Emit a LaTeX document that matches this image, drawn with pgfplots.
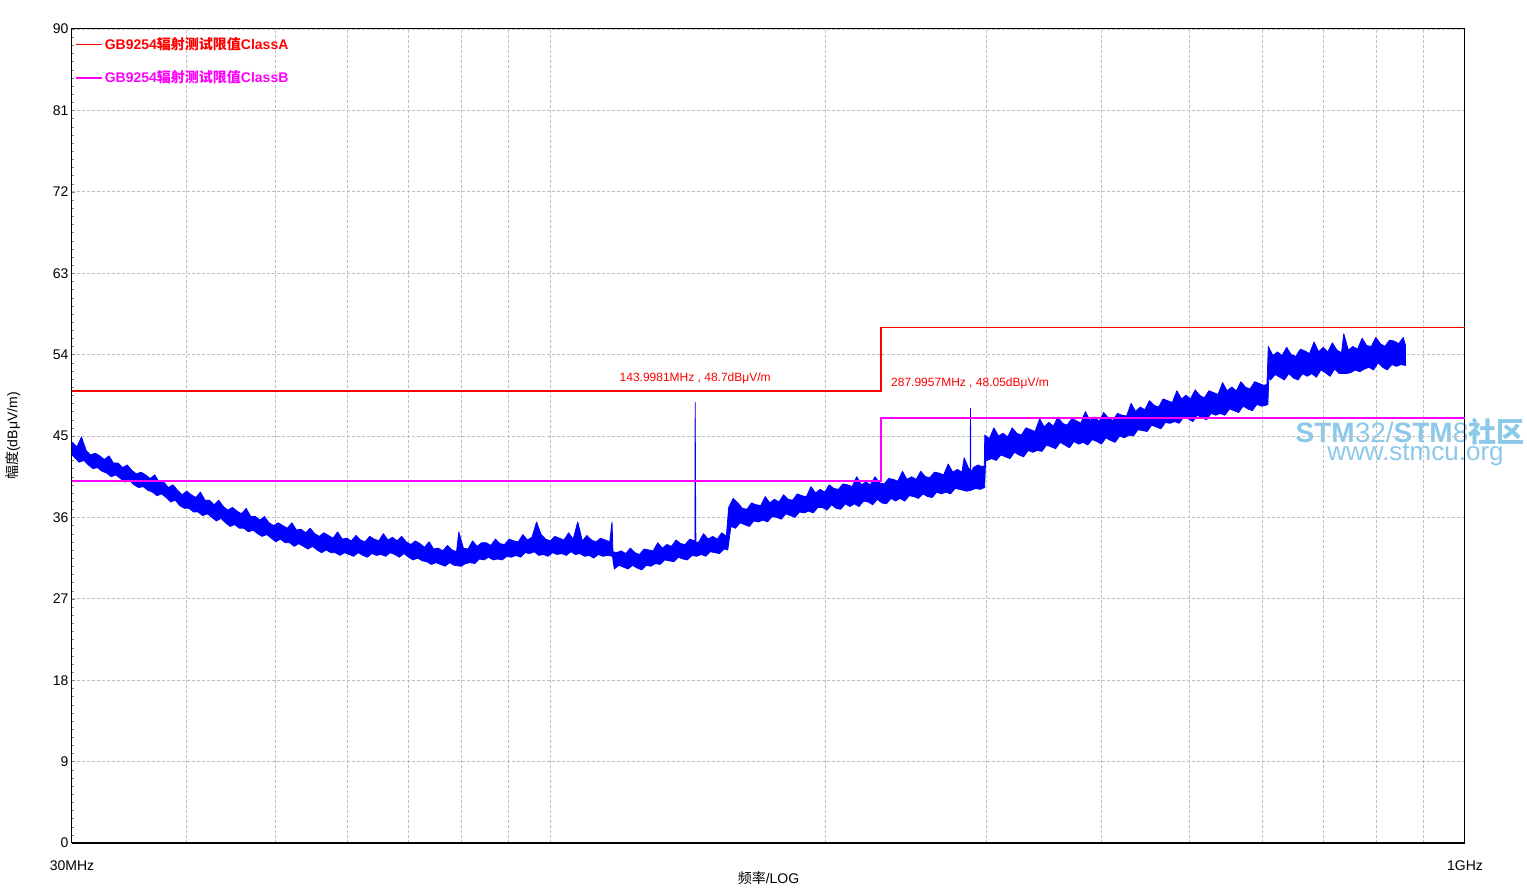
\documentclass[border=0pt]{standalone}
\usepackage{fontspec}
\setmainfont{Liberation Sans}
\newfontfamily\cjk{Noto Sans CJK SC}
\usepackage{pgfplots}
\usepackage{pgfplotstable}
\pgfplotsset{compat=1.18}
\definecolor{gridgray}{RGB}{190,190,190}
\definecolor{limitA}{RGB}{255,0,0}
\definecolor{limitB}{RGB}{255,0,255}
\definecolor{trace}{RGB}{0,0,255}
\definecolor{wmark}{RGB}{140,200,234}

% measured trace, x = log10(f/MHz): upper edge of the noise band (with the peaks)
\pgfplotstableread[row sep=\\]{
x y \\
1.4775 44.3 \\ 1.4825 43.8 \\ 1.4875 44.9 \\ 1.4925 43.4 \\ 1.4975 42.9 \\ 1.5025 43.1 \\ 1.5075 42.8 \\ 1.5125 42.4 \\ 1.5175 42.8 \\ 1.5225 42.0 \\
1.5275 42.0 \\ 1.5325 41.5 \\ 1.5375 41.8 \\ 1.5425 41.2 \\ 1.5475 40.8 \\ 1.5525 41.0 \\ 1.5575 40.7 \\ 1.5625 40.3 \\ 1.5675 40.7 \\ 1.5725 39.9 \\
1.5775 39.9 \\ 1.5825 39.3 \\ 1.5875 39.6 \\ 1.5925 39.0 \\ 1.5975 38.5 \\ 1.6025 38.9 \\ 1.6075 38.5 \\ 1.6125 38.2 \\ 1.6175 38.8 \\ 1.6225 37.9 \\
1.6275 37.9 \\ 1.6325 37.4 \\ 1.6375 37.9 \\ 1.6425 37.2 \\ 1.6475 36.8 \\ 1.6525 37.1 \\ 1.6575 36.7 \\ 1.6625 36.4 \\ 1.6675 37.0 \\ 1.6725 36.1 \\
1.6775 36.1 \\ 1.6825 35.7 \\ 1.6875 36.1 \\ 1.6925 35.4 \\ 1.6975 35.1 \\ 1.7025 35.4 \\ 1.7075 35.1 \\ 1.7125 34.8 \\ 1.7175 35.4 \\ 1.7225 34.6 \\
1.7275 34.7 \\ 1.7325 34.3 \\ 1.7375 34.8 \\ 1.7425 34.2 \\ 1.7475 33.9 \\ 1.7525 34.3 \\ 1.7575 34.0 \\ 1.7625 33.7 \\ 1.7675 34.4 \\ 1.7725 33.6 \\
1.7775 33.7 \\ 1.7825 33.4 \\ 1.7875 34.0 \\ 1.7925 33.5 \\ 1.7975 33.3 \\ 1.8025 33.9 \\ 1.8075 33.6 \\ 1.8125 33.4 \\ 1.8175 34.2 \\ 1.8225 33.5 \\
1.8275 33.8 \\ 1.8325 33.4 \\ 1.8375 33.9 \\ 1.8425 33.3 \\ 1.8475 33.0 \\ 1.8525 33.4 \\ 1.8575 33.1 \\ 1.8625 32.7 \\ 1.8675 33.3 \\ 1.8725 32.5 \\
1.8775 32.6 \\ 1.8825 32.3 \\ 1.8875 32.9 \\ 1.8925 32.4 \\ 1.8975 32.2 \\ 1.9000 34.4 \\ 1.9050 32.6 \\ 1.9100 32.5 \\ 1.9150 33.4 \\ 1.9200 32.8 \\
1.9250 33.2 \\ 1.9300 33.2 \\ 1.9350 32.9 \\ 1.9400 33.6 \\ 1.9450 33.1 \\ 1.9500 33.0 \\ 1.9550 33.6 \\ 1.9600 33.4 \\ 1.9650 33.3 \\ 1.9700 34.1 \\
1.9750 33.5 \\ 1.9800 33.8 \\ 1.9850 35.5 \\ 1.9900 34.1 \\ 1.9950 33.6 \\ 2.0000 33.4 \\ 2.0050 33.9 \\ 2.0100 33.7 \\ 2.0150 33.5 \\ 2.0200 34.3 \\
2.0250 33.6 \\ 2.0300 35.5 \\ 2.0350 33.4 \\ 2.0400 34.0 \\ 2.0450 33.5 \\ 2.0500 33.3 \\ 2.0550 33.7 \\ 2.0600 33.5 \\ 2.0650 33.3 \\ 2.0675 35.5 \\
2.0685 32.2 \\ 2.0725 32.1 \\ 2.0775 32.3 \\ 2.0825 32.0 \\ 2.0875 32.6 \\ 2.0925 32.1 \\ 2.0975 31.9 \\ 2.1025 32.5 \\ 2.1075 32.4 \\ 2.1125 32.3 \\
2.1175 33.2 \\ 2.1225 32.6 \\ 2.1275 33.0 \\ 2.1325 32.8 \\ 2.1375 33.5 \\ 2.1425 33.1 \\ 2.1475 33.0 \\ 2.1525 33.6 \\ 2.1575 33.4 \\ 2.1581 33.3 \\
2.1584 48.7 \\ 2.1588 39.1 \\ 2.1592 33.2 \\ 2.1625 33.3 \\ 2.1675 34.2 \\ 2.1725 33.6 \\ 2.1775 33.9 \\ 2.1825 33.6 \\ 2.1875 34.3 \\ 2.1925 33.9 \\
2.1950 37.1 \\ 2.2000 38.1 \\ 2.2050 37.6 \\ 2.2100 37.0 \\ 2.2150 36.9 \\ 2.2200 37.6 \\ 2.2250 37.4 \\ 2.2300 37.3 \\ 2.2350 38.3 \\ 2.2400 37.6 \\
2.2450 38.0 \\ 2.2500 37.7 \\ 2.2550 38.5 \\ 2.2600 38.0 \\ 2.2650 37.9 \\ 2.2700 38.6 \\ 2.2750 38.4 \\ 2.2800 38.3 \\ 2.2850 39.4 \\ 2.2900 38.7 \\
2.2950 39.1 \\ 2.3000 38.8 \\ 2.3050 39.6 \\ 2.3100 39.2 \\ 2.3150 39.1 \\ 2.3200 39.7 \\ 2.3250 39.6 \\ 2.3300 39.4 \\ 2.3350 40.5 \\ 2.3400 39.6 \\
2.3450 39.9 \\ 2.3500 39.6 \\ 2.3550 40.5 \\ 2.3600 39.8 \\ 2.3650 39.7 \\ 2.3700 40.3 \\ 2.3750 40.2 \\ 2.3800 40.0 \\ 2.3850 41.1 \\ 2.3900 40.2 \\
2.3950 40.5 \\ 2.4000 40.2 \\ 2.4050 41.1 \\ 2.4100 40.5 \\ 2.4150 40.4 \\ 2.4200 41.0 \\ 2.4250 40.9 \\ 2.4300 40.7 \\ 2.4350 41.9 \\ 2.4400 41.0 \\
2.4450 41.3 \\ 2.4500 41.0 \\ 2.4525 42.6 \\ 2.4575 41.4 \\ 2.4590 41.2 \\ 2.4594 48.05 \\ 2.4598 40.8 \\ 2.4625 41.5 \\ 2.4675 41.8 \\ 2.4725 41.6 \\
2.4745 41.7 \\ 2.4750 45.1 \\ 2.4800 44.7 \\ 2.4850 45.9 \\ 2.4900 45.0 \\ 2.4950 45.3 \\ 2.5000 44.9 \\ 2.5050 45.9 \\ 2.5100 45.3 \\ 2.5150 45.1 \\
2.5200 45.9 \\ 2.5250 45.7 \\ 2.5300 45.5 \\ 2.5350 46.9 \\ 2.5400 46.0 \\ 2.5450 46.5 \\ 2.5500 46.1 \\ 2.5550 47.1 \\ 2.5600 46.4 \\ 2.5650 46.2 \\
2.5700 46.9 \\ 2.5750 46.7 \\ 2.5800 46.4 \\ 2.5850 47.7 \\ 2.5900 46.7 \\ 2.5950 47.1 \\ 2.6000 46.6 \\ 2.6050 47.6 \\ 2.6100 47.0 \\ 2.6150 46.7 \\
2.6200 47.5 \\ 2.6250 47.3 \\ 2.6300 47.2 \\ 2.6350 48.6 \\ 2.6400 47.7 \\ 2.6450 48.2 \\ 2.6500 47.9 \\ 2.6550 48.9 \\ 2.6600 48.4 \\ 2.6650 48.2 \\
2.6700 49.1 \\ 2.6750 48.9 \\ 2.6800 48.7 \\ 2.6850 50.0 \\ 2.6900 49.1 \\ 2.6950 49.5 \\ 2.7000 49.1 \\ 2.7050 50.1 \\ 2.7100 49.5 \\ 2.7150 49.2 \\
2.7200 50.0 \\ 2.7250 49.8 \\ 2.7300 49.6 \\ 2.7350 50.9 \\ 2.7400 50.0 \\ 2.7450 50.4 \\ 2.7500 50.0 \\ 2.7550 51.0 \\ 2.7600 50.4 \\ 2.7650 50.2 \\
2.7700 51.0 \\ 2.7750 50.8 \\ 2.7800 50.6 \\ 2.7835 50.7 \\ 2.7850 54.9 \\ 2.7900 53.9 \\ 2.7950 54.3 \\ 2.8000 53.9 \\ 2.8050 54.8 \\ 2.8100 54.0 \\
2.8150 53.8 \\ 2.8200 54.6 \\ 2.8250 54.4 \\ 2.8300 54.1 \\ 2.8350 55.4 \\ 2.8400 54.3 \\ 2.8450 54.8 \\ 2.8500 54.3 \\ 2.8550 55.3 \\ 2.8600 54.5 \\
2.8650 54.2 \\ 2.8675 56.3 \\ 2.8725 54.5 \\ 2.8775 54.9 \\ 2.8825 54.6 \\ 2.8875 55.8 \\ 2.8925 55.0 \\ 2.8975 54.9 \\ 2.9025 55.9 \\ 2.9075 55.2 \\
2.9125 54.9 \\ 2.9175 55.6 \\ 2.9225 55.5 \\ 2.9275 55.2 \\ 2.9325 55.9 \\ 2.9350 55.0 \\
}\bandup

% lower edge of the noise band
\pgfplotstableread[row sep=\\]{
x y \\
1.4775 42.9 \\ 1.4800 42.6 \\ 1.4850 42.1 \\ 1.4900 42.3 \\ 1.4950 41.8 \\ 1.5000 41.4 \\ 1.5050 41.5 \\ 1.5100 41.1 \\ 1.5150 40.9 \\ 1.5200 40.5 \\
1.5250 40.7 \\ 1.5300 40.3 \\ 1.5350 39.9 \\ 1.5400 40.1 \\ 1.5450 39.6 \\ 1.5500 39.3 \\ 1.5550 39.4 \\ 1.5600 39.0 \\ 1.5650 38.8 \\ 1.5700 38.4 \\
1.5750 38.6 \\ 1.5800 38.2 \\ 1.5850 37.7 \\ 1.5900 37.9 \\ 1.5950 37.3 \\ 1.6000 37.0 \\ 1.6050 37.0 \\ 1.6100 36.6 \\ 1.6150 36.6 \\ 1.6200 36.2 \\
1.6250 36.4 \\ 1.6300 36.0 \\ 1.6350 35.6 \\ 1.6400 35.9 \\ 1.6450 35.4 \\ 1.6500 35.0 \\ 1.6550 35.2 \\ 1.6600 34.8 \\ 1.6650 34.8 \\ 1.6700 34.4 \\
1.6750 34.6 \\ 1.6800 34.2 \\ 1.6850 33.9 \\ 1.6900 34.1 \\ 1.6950 33.7 \\ 1.7000 33.3 \\ 1.7050 33.6 \\ 1.7100 33.2 \\ 1.7150 33.2 \\ 1.7200 32.8 \\
1.7250 33.1 \\ 1.7300 32.8 \\ 1.7350 32.5 \\ 1.7400 32.8 \\ 1.7450 32.4 \\ 1.7500 32.1 \\ 1.7550 32.4 \\ 1.7600 32.1 \\ 1.7650 32.1 \\ 1.7700 31.8 \\
1.7750 32.1 \\ 1.7800 31.9 \\ 1.7850 31.7 \\ 1.7900 32.1 \\ 1.7950 31.8 \\ 1.8000 31.6 \\ 1.8050 32.0 \\ 1.8100 31.8 \\ 1.8150 31.9 \\ 1.8200 31.7 \\
1.8250 32.1 \\ 1.8300 31.9 \\ 1.8350 31.6 \\ 1.8400 32.0 \\ 1.8450 31.6 \\ 1.8500 31.3 \\ 1.8550 31.5 \\ 1.8600 31.2 \\ 1.8650 31.1 \\ 1.8700 30.8 \\
1.8750 31.0 \\ 1.8800 30.8 \\ 1.8850 30.6 \\ 1.8900 31.0 \\ 1.8950 30.7 \\ 1.9025 30.6 \\ 1.9075 30.9 \\ 1.9125 31.0 \\ 1.9175 30.9 \\ 1.9225 31.4 \\
1.9275 31.3 \\ 1.9325 31.6 \\ 1.9375 31.3 \\ 1.9425 31.4 \\ 1.9475 31.3 \\ 1.9525 31.7 \\ 1.9575 31.6 \\ 1.9625 31.8 \\ 1.9675 31.6 \\ 1.9725 32.1 \\
1.9775 32.0 \\ 1.9825 32.2 \\ 1.9875 31.8 \\ 1.9925 31.9 \\ 1.9975 31.7 \\ 2.0025 32.1 \\ 2.0075 31.9 \\ 2.0125 32.0 \\ 2.0175 31.8 \\ 2.0225 32.2 \\
2.0275 31.9 \\ 2.0325 32.0 \\ 2.0375 31.7 \\ 2.0425 31.8 \\ 2.0475 31.5 \\ 2.0525 31.9 \\ 2.0575 31.7 \\ 2.0625 31.8 \\ 2.0680 31.7 \\ 2.0700 30.3 \\
2.0750 30.7 \\ 2.0800 30.5 \\ 2.0850 30.3 \\ 2.0900 30.7 \\ 2.0950 30.4 \\ 2.1000 30.2 \\ 2.1050 30.7 \\ 2.1100 30.6 \\ 2.1150 30.9 \\ 2.1200 30.8 \\
2.1250 31.3 \\ 2.1300 31.2 \\ 2.1350 31.1 \\ 2.1400 31.6 \\ 2.1450 31.4 \\ 2.1500 31.3 \\ 2.1550 31.8 \\ 2.1600 31.7 \\ 2.1650 31.9 \\ 2.1700 31.7 \\
2.1750 32.2 \\ 2.1800 32.1 \\ 2.1850 32.0 \\ 2.1900 32.5 \\ 2.1940 32.4 \\ 2.1975 35.0 \\ 2.2025 34.8 \\ 2.2075 35.4 \\ 2.2125 35.2 \\ 2.2175 35.0 \\
2.2225 35.6 \\ 2.2275 35.5 \\ 2.2325 35.7 \\ 2.2375 35.5 \\ 2.2425 36.1 \\ 2.2475 36.0 \\ 2.2525 35.8 \\ 2.2575 36.4 \\ 2.2625 36.2 \\ 2.2675 36.0 \\
2.2725 36.6 \\ 2.2775 36.5 \\ 2.2825 36.7 \\ 2.2875 36.5 \\ 2.2925 37.1 \\ 2.2975 37.1 \\ 2.3025 36.8 \\ 2.3075 37.4 \\ 2.3125 37.0 \\ 2.3175 36.9 \\
2.3225 37.5 \\ 2.3275 37.2 \\ 2.3325 37.5 \\ 2.3375 37.2 \\ 2.3425 37.8 \\ 2.3475 37.7 \\ 2.3525 37.4 \\ 2.3575 38.0 \\ 2.3625 37.6 \\ 2.3675 37.5 \\
2.3725 38.1 \\ 2.3775 37.8 \\ 2.3825 38.1 \\ 2.3875 37.8 \\ 2.3925 38.4 \\ 2.3975 38.3 \\ 2.4025 38.1 \\ 2.4075 38.6 \\ 2.4125 38.3 \\ 2.4175 38.2 \\
2.4225 38.8 \\ 2.4275 38.6 \\ 2.4325 38.8 \\ 2.4375 38.6 \\ 2.4425 39.2 \\ 2.4475 39.1 \\ 2.4550 38.9 \\ 2.4600 39.0 \\ 2.4650 39.2 \\ 2.4700 39.1 \\
2.4748 39.3 \\ 2.4760 42.5 \\ 2.4775 42.3 \\ 2.4825 42.5 \\ 2.4875 42.3 \\ 2.4925 42.9 \\ 2.4975 42.7 \\ 2.5025 42.5 \\ 2.5075 43.2 \\ 2.5125 42.9 \\
2.5175 42.7 \\ 2.5225 43.4 \\ 2.5275 43.2 \\ 2.5325 43.4 \\ 2.5375 43.3 \\ 2.5425 44.0 \\ 2.5475 43.8 \\ 2.5525 43.6 \\ 2.5575 44.3 \\ 2.5625 44.0 \\
2.5675 43.7 \\ 2.5725 44.4 \\ 2.5775 44.1 \\ 2.5825 44.3 \\ 2.5875 44.0 \\ 2.5925 44.6 \\ 2.5975 44.4 \\ 2.6025 44.1 \\ 2.6075 44.8 \\ 2.6125 44.5 \\
2.6175 44.3 \\ 2.6225 45.0 \\ 2.6275 44.8 \\ 2.6325 45.1 \\ 2.6375 45.0 \\ 2.6425 45.7 \\ 2.6475 45.6 \\ 2.6525 45.5 \\ 2.6575 46.2 \\ 2.6625 46.0 \\
2.6675 45.8 \\ 2.6725 46.5 \\ 2.6775 46.4 \\ 2.6825 46.6 \\ 2.6875 46.4 \\ 2.6925 47.1 \\ 2.6975 46.9 \\ 2.7025 46.6 \\ 2.7075 47.3 \\ 2.7125 47.0 \\
2.7175 46.8 \\ 2.7225 47.5 \\ 2.7275 47.3 \\ 2.7325 47.5 \\ 2.7375 47.3 \\ 2.7425 48.0 \\ 2.7475 47.8 \\ 2.7525 47.6 \\ 2.7575 48.3 \\ 2.7625 48.0 \\
2.7675 47.8 \\ 2.7725 48.5 \\ 2.7775 48.3 \\ 2.7825 48.4 \\ 2.7845 48.5 \\ 2.7855 51.4 \\ 2.7875 51.2 \\ 2.7925 51.8 \\ 2.7975 51.5 \\ 2.8025 51.2 \\
2.8075 51.9 \\ 2.8125 51.4 \\ 2.8175 51.2 \\ 2.8225 51.9 \\ 2.8275 51.6 \\ 2.8325 51.9 \\ 2.8375 51.5 \\ 2.8425 52.3 \\ 2.8475 52.0 \\ 2.8525 51.6 \\
2.8575 52.4 \\ 2.8625 51.9 \\ 2.8700 51.9 \\ 2.8750 52.0 \\ 2.8800 52.3 \\ 2.8850 52.1 \\ 2.8900 52.4 \\ 2.8950 52.6 \\ 2.9000 52.3 \\ 2.9050 53.1 \\
2.9100 52.6 \\ 2.9150 52.3 \\ 2.9200 52.9 \\ 2.9250 52.7 \\ 2.9300 52.9 \\ 2.9350 52.8 \\
}\bandlo

% the band outline: upper edge left to right, then lower edge right to left
\pgfplotstablesort[sort key=x, sort cmp=float >]{\bandlorev}{\bandlo}
\pgfplotstablevertcat{\bandup}{\bandlorev}

\begin{document}
\begin{tikzpicture}
\useasboundingbox (-72pt,-47pt) rectangle (1455pt,843pt);
% watermark, drawn first so the frame lies over it
\node[wmark, anchor=base, inner sep=0pt, font=\fontsize{28}{30}\selectfont] at (1338pt,400pt)
  {\textbf{STM}32/\textbf{STM}8{\bfseries\cjk 社区}};
\node[wmark, anchor=base, inner sep=0pt, font=\fontsize{26}{30}\selectfont] at (1343.5pt,382pt)
  {www.stmcu.org};
\begin{axis}[
  scale only axis, width=1393pt, height=814pt,
  xmin=1.4771, xmax=3, ymin=0, ymax=90,
  clip=false,
  axis line style={line width=1pt},
  xtick={1.4771,3}, xticklabels={30MHz,1GHz},
  xtick style={draw=none},
  minor xtick={1.6021,1.6990,1.7782,1.8451,1.9031,1.9542,2,2.3010,2.4771,2.6021,2.6990,2.7782,2.8451,2.9031,2.9542},
  minor x tick style={draw=none},
  xminorgrids=true,
  ytick={0,9,...,90},
  minor y tick num=9,
  ytick pos=left,
  tick align=inside,
  major tick length=3pt, minor tick length=2.5pt,
  ymajorgrids=true,
  grid style={gridgray, dash pattern=on 3pt off 2pt, line width=0.8pt},
  minor grid style={gridgray, dash pattern=on 3pt off 2pt, line width=0.8pt},
  ticklabel style={font=\fontsize{14}{16}\selectfont},
  xticklabel style={yshift=-14pt},
  /pgf/number format/assume math mode=true,
  legend cell align=left,
  legend style={at={(rel axis cs:0,1)}, anchor=north west, draw=none, fill=none,
    inner xsep=3pt, inner ysep=6.7pt, row sep=15.6pt,
    font=\bfseries\fontsize{14}{16}\selectfont, nodes={inner sep=2pt}},
  legend image code/.code={\draw[#1] (0pt,0pt) -- (26pt,0pt);},
]

\addplot[fill=trace, draw=trace, line width=0.8pt, line join=round, forget plot]
  table[x=x, y=y] {\bandup} -- cycle;

% GB9254 limit lines, step at 230 MHz
\addplot[limitA, line width=1.6pt, const plot] coordinates {(1.4771,50) (2.3617,57) (3,57)};
\addlegendentry{\textcolor{limitA}{GB9254{\cjk 辐射测试限值}ClassA}}
\addplot[limitB, line width=1.6pt, const plot] coordinates {(1.4771,40) (2.3617,47) (3,47)};
\addlegendentry{\textcolor{limitB}{GB9254{\cjk 辐射测试限值}ClassB}}

% peak markers
\node[limitA, anchor=base, inner sep=0pt, font=\fontsize{12}{14}\selectfont]
  at (axis cs:2.1584,51.03) {143.9981MHz , 48.7dBμV/m};
\node[limitA, anchor=base west, inner sep=0pt, font=\fontsize{12}{14}\selectfont]
  at (axis cs:2.3725,50.49) {287.9957MHz , 48.05dBμV/m};

\draw[line width=2pt] (rel axis cs:0,0) -- (rel axis cs:1,0);

\node[font=\fontsize{14}{16}\selectfont] at ([yshift=-35pt]rel axis cs:0.5,0) {{\cjk 频率}/LOG};
\node[rotate=90, font=\fontsize{14}{16}\selectfont] at ([xshift=-59pt]rel axis cs:0,0.5) {{\cjk 幅度}(dBμV/m)};
\end{axis}
\end{tikzpicture}
\end{document}
